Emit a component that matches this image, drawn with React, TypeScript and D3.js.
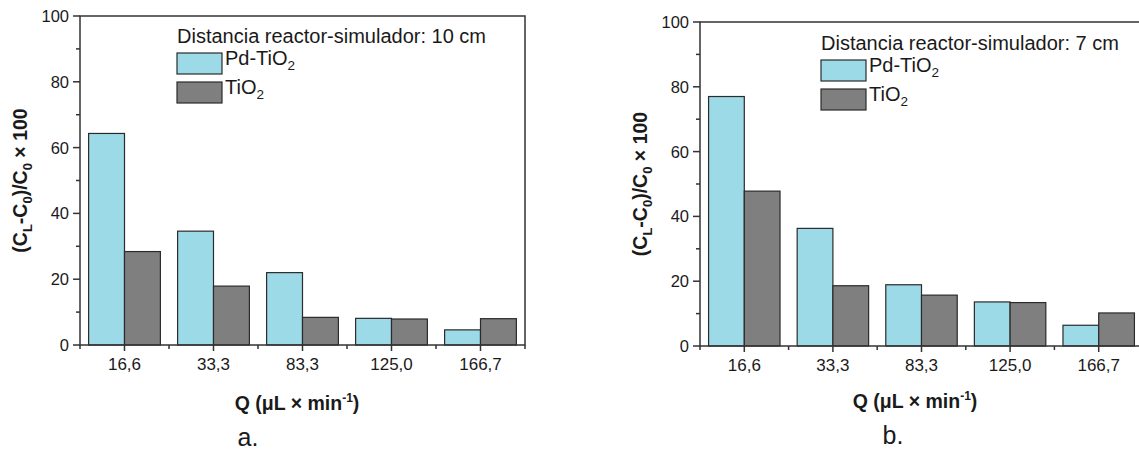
import React from "react";
import * as d3 from "d3";

// flow rates (µL/min) shown as categories
const categories = ["16,6", "33,3", "83,3", "125,0", "166,7"];
const seriesNames = ["Pd-TiO2", "TiO2"];

// panel a: reactor-simulator distance 10 cm
const pdTiO2_10cm = [64.3, 34.6, 22.0, 8.1, 4.6];
const tiO2_10cm = [28.4, 17.9, 8.4, 7.9, 8.0];

// panel b: reactor-simulator distance 7 cm
const pdTiO2_7cm = [77.0, 36.3, 18.9, 13.6, 6.4];
const tiO2_7cm = [47.8, 18.6, 15.7, 13.4, 10.2];

const yTicks = [0, 20, 40, 60, 80, 100];
const yMinorTicks = [10, 30, 50, 70, 90];

const colors = ["#9bdae6", "#7f7f7f"];
const axisColor = "#333";
const font = "'Liberation Sans', Arial, Helvetica, sans-serif";

type PanelProps = {
  pd: number[];
  ti: number[];
  distance: string;
  letter: string;
  x0: number;
  x1: number;
  yTop: number;
  yBottom: number;
  legendX: number;
  legendY: number;
  titleX: number;
  titleY: number;
  letterX: number;
  letterY: number;
  yTitleX: number;
};

const Panel = (p: PanelProps) => {
  const x = d3.scaleBand<string>().domain(categories).range([p.x0, p.x1]).padding(0);
  const x1 = d3
    .scaleBand<string>()
    .domain(seriesNames)
    .range([0, x.bandwidth()])
    .paddingInner(0)
    .paddingOuter(0.24);
  const y = d3.scaleLinear().domain([0, 100]).range([p.yBottom, p.yTop]);
  const values = [p.pd, p.ti];

  // band boundaries for minor x ticks
  const boundaries = categories.map((c) => x(c)!).concat([p.x1]);

  return (
    <g fontFamily={font} fill="#1a1a1a">
      {/* bars */}
      {categories.map((c, i) =>
        seriesNames.map((s, k) => (
          <rect
            key={c + s}
            x={x(c)! + x1(s)!}
            y={y(values[k][i])}
            width={x1.bandwidth()}
            height={y(0) - y(values[k][i])}
            fill={colors[k]}
            stroke="#2b2b2b"
            strokeWidth={1.2}
          />
        ))
      )}

      {/* frame */}
      <rect
        x={p.x0}
        y={p.yTop}
        width={p.x1 - p.x0}
        height={p.yBottom - p.yTop}
        fill="none"
        stroke={axisColor}
        strokeWidth={1.5}
      />

      {/* y axis ticks */}
      {yTicks.map((t) => (
        <g key={"y" + t}>
          <line x1={p.x0 - 7} x2={p.x0} y1={y(t)} y2={y(t)} stroke={axisColor} strokeWidth={1.5} />
          <text x={p.x0 - 11} y={y(t) + 6} textAnchor="end" fontSize={16.5}>
            {t}
          </text>
        </g>
      ))}
      {yMinorTicks.map((t) => (
        <line key={"ym" + t} x1={p.x0 - 4} x2={p.x0} y1={y(t)} y2={y(t)} stroke={axisColor} strokeWidth={1.5} />
      ))}

      {/* x axis ticks */}
      {categories.map((c) => {
        const cx = x(c)! + x.bandwidth() / 2;
        return (
          <g key={"x" + c}>
            <line x1={cx} x2={cx} y1={p.yBottom} y2={p.yBottom + 6} stroke={axisColor} strokeWidth={1.5} />
            <text x={cx} y={p.yBottom + 25} textAnchor="middle" fontSize={17}>
              {c}
            </text>
          </g>
        );
      })}
      {boundaries.map((b, i) => (
        <line key={"xm" + i} x1={b} x2={b} y1={p.yBottom} y2={p.yBottom + 4} stroke={axisColor} strokeWidth={1.5} />
      ))}

      {/* legend */}
      <text x={p.legendX} y={p.legendY} fontSize={20}>
        Distancia reactor-simulador: {p.distance}
      </text>
      {seriesNames.map((s, k) => (
        <g key={"lg" + s}>
          <rect
            x={p.legendX}
            y={p.legendY + 10 + k * 29}
            width={45}
            height={21}
            fill={colors[k]}
            stroke="#2b2b2b"
            strokeWidth={1.2}
          />
          <text x={p.legendX + 48} y={p.legendY + 22 + k * 29} fontSize={20}>
            {k === 0 ? "Pd-TiO" : "TiO"}
            <tspan dy={5} fontSize={13.5}>2</tspan>
          </text>
        </g>
      ))}

      {/* axis titles */}
      <text x={p.titleX} y={p.titleY} textAnchor="middle" fontSize={19.5} fontWeight="bold">
        Q (μL × min
        <tspan dy={-8} fontSize={12}>-1</tspan>
        <tspan dy={8}>)</tspan>
      </text>
      <text
        transform={`translate(${p.yTitleX},${(p.yTop + p.yBottom) / 2}) rotate(-90)`}
        textAnchor="middle"
        fontSize={19.5}
        fontWeight="bold"
      >
        (C
        <tspan dy={5} fontSize={13}>L</tspan>
        <tspan dy={-5}>-C</tspan>
        <tspan dy={5} fontSize={13}>0</tspan>
        <tspan dy={-5}>)/C</tspan>
        <tspan dy={5} fontSize={13}>0</tspan>
        <tspan dy={-5}> × 100</tspan>
      </text>

      <text x={p.letterX} y={p.letterY} textAnchor="middle" fontSize={25}>
        {p.letter}
      </text>
    </g>
  );
};

export default function App() {
  return (
    <div style={{ position: "absolute", left: 0, top: 0 }}>
      <svg width={1139} height={454} style={{ display: "block", background: "#fff" }}>
        <Panel
          pd={pdTiO2_10cm}
          ti={tiO2_10cm}
          distance="10 cm"
          letter="a."
          x0={80}
          x1={525}
          yTop={16}
          yBottom={345}
          legendX={177}
          legendY={43}
          titleX={297}
          titleY={410}
          letterX={248}
          letterY={446}
          yTitleX={27}
        />
        <Panel
          pd={pdTiO2_7cm}
          ti={tiO2_7cm}
          distance="7 cm"
          letter="b."
          x0={700}
          x1={1143}
          yTop={22}
          yBottom={346}
          legendX={821}
          legendY={50}
          titleX={915}
          titleY={408}
          letterX={893}
          letterY={444}
          yTitleX={647}
        />
      </svg>
    </div>
  );
}
